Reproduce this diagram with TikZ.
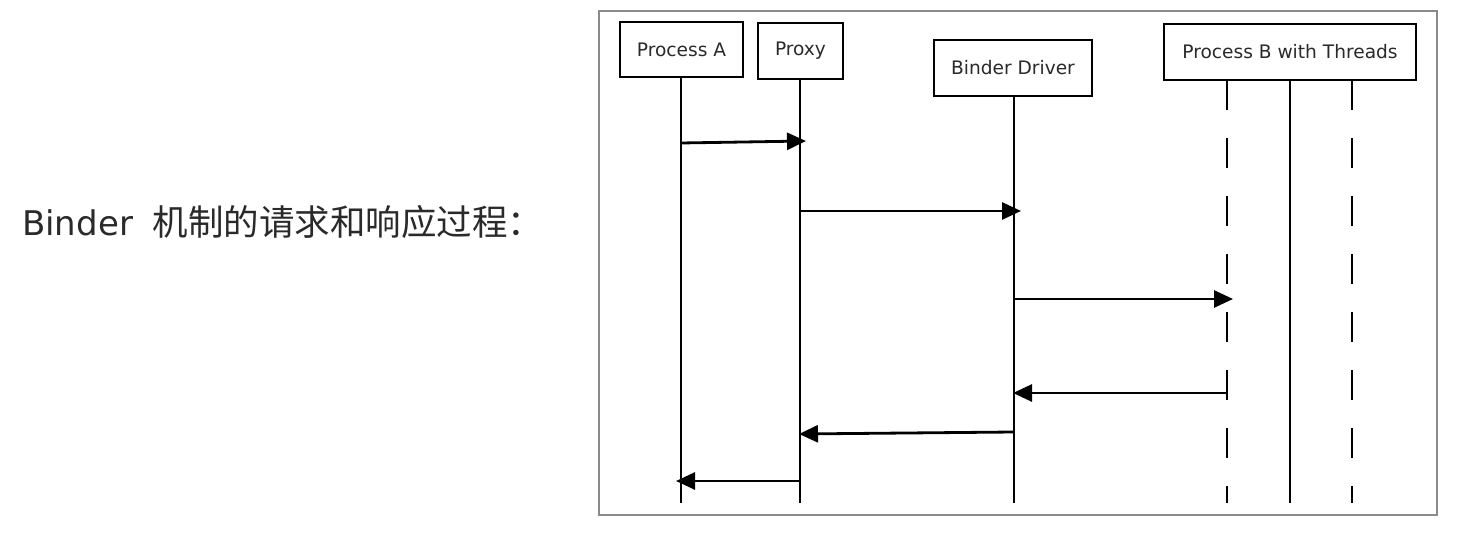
\documentclass[tikz,border=0pt]{standalone}
\usepackage{fontspec}
\setmainfont{DejaVu Sans}
\newfontfamily\cjkfont{Noto Sans CJK SC}
\usetikzlibrary{arrows.meta}
\definecolor{framegray}{HTML}{8A8A8A}
\definecolor{txtgray}{HTML}{2A2A2A}
\tikzset{
  actor/.style={draw=black, line width=2.8pt, fill=white, inner sep=0pt, font=\fontsize{18.6}{20}\selectfont, text=txtgray},
  life/.style={line width=2.4pt, black},
  dashlife/.style={line width=2.4pt, black, dash pattern=on 30pt off 28pt},
  msg/.style={line width=2.8pt, black, -{Triangle[length=19pt,width=17pt]}}
}
\begin{document}
\begin{tikzpicture}[x=1pt,y=-1pt]
\useasboundingbox (0,0) rectangle (1458,534);
% caption
\node[anchor=base west, inner sep=0pt, text=txtgray, font=\fontsize{34}{38}\selectfont] (cap) at (22,236) {Binder\hspace{20pt}{\cjkfont\fontsize{35.5}{38}\selectfont 机制的请求和响应过程：}};
% frame
\draw[framegray, line width=2pt] (599,11) rectangle (1437,515);
% actors
\node[actor, minimum width=123pt, minimum height=55pt] (pa) at (681.5,49.5) {Process A};
\node[actor, minimum width=85pt, minimum height=56pt] (px) at (800.5,51) {Proxy};
\node[actor, minimum width=158pt, minimum height=56pt] (bd) at (1013,68) {Binder Driver};
\node[actor, minimum width=252pt, minimum height=56pt] (pb) at (1290,52) {Process B with Threads};
% lifelines
\coordinate (paE) at (681,503);
\coordinate (pxE) at (800,503);
\coordinate (bdE) at (1014,503);
\coordinate (t1S) at (1227,80);
\coordinate (t1E) at (1227,503);
\coordinate (t2S) at (1290,80);
\coordinate (t2E) at (1290,503);
\coordinate (t3S) at (1352,80);
\coordinate (t3E) at (1352,503);
\draw[life] (pa.south -| paE) -- (paE);
\draw[life] (px.south -| pxE) -- (pxE);
\draw[life] (bd.south -| bdE) -- (bdE);
\draw[dashlife] (t1S) -- (t1E);
\draw[life] (t2S) -- (t2E);
\draw[dashlife] (t3S) -- (t3E);
% messages
\coordinate (m1a) at (681,143); \coordinate (m1b) at (806,141);
\coordinate (m2a) at (800,211); \coordinate (m2b) at (1021,211);
\coordinate (m3a) at (1014,299); \coordinate (m3b) at (1233,299);
\coordinate (m4a) at (1227,393); \coordinate (m4b) at (1013,393);
\coordinate (m5a) at (1014,432); \coordinate (m5b) at (799,434);
\coordinate (m6a) at (800,481); \coordinate (m6b) at (676,481);
\draw[msg] (m1a) -- (m1b);
\draw[msg] (m2a) -- (m2b);
\draw[msg] (m3a) -- (m3b);
\draw[msg] (m4a) -- (m4b);
\draw[msg] (m5a) -- (m5b);
\draw[msg] (m6a) -- (m6b);
\end{tikzpicture}
\end{document}
